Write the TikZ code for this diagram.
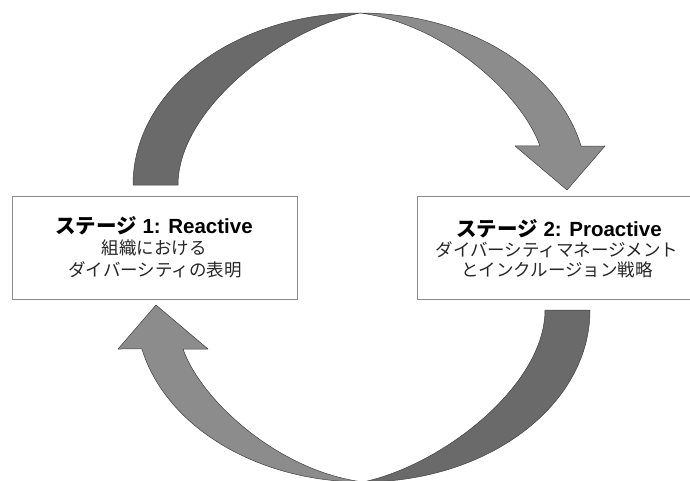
\documentclass[tikz,border=0pt]{standalone}
\usepackage{fontspec}
\newfontfamily\jpfont{Noto Sans CJK JP}
\newfontfamily\enfont{Liberation Sans}
\definecolor{arrowdark}{HTML}{6A6A6A}
\definecolor{arrowlight}{HTML}{8C8C8C}
\definecolor{boxline}{HTML}{8A8A8A}
\newcommand\drawcurvarrow{%
  \filldraw[arrowpart, fill=arrowdark]
    (133,295) arc[start angle=180, end angle=90, x radius=227, y radius=172]
    .. controls (280,450) and (178,370) .. (178,295) -- cycle;
  \filldraw[arrowpart, fill=arrowlight]
    (360,467) arc[start angle=90, end angle=13.1, x radius=227, y radius=172]
    -- (605,334) -- (567,290) -- (515,334) -- (540,334)
    .. controls (522,385) and (445,456) .. (360,467) -- cycle;
}
\begin{document}
\begin{tikzpicture}[x=1pt, y=1pt,
  arrowpart/.style={draw=black!75, line width=0.5pt, line join=round},
  stagebox/.style={draw=boxline, line width=0.9pt, minimum width=285pt, minimum height=103pt, inner sep=0pt},
  titletext/.style={font=\fontsize{20.5}{24}\selectfont\bfseries, anchor=base, inner sep=0pt},
  bodytext/.style={font=\jpfont\fontsize{17.5}{21}\selectfont, anchor=base, inner sep=0pt, text=black!85}]
\useasboundingbox (0,0) rectangle (690,480);
\clip (0,0) rectangle (690,480);
\fill[white] (0,0) rectangle (690,480);
% top arrow
\drawcurvarrow
% bottom arrow (same shape turned half round)
\begin{scope}[rotate around={180:(361.5,232.5)}]
\drawcurvarrow
\end{scope}
% boxes
\node[stagebox] (s1) at (154.5,232.5) {};
\node[stagebox] (s2) at (559.5,232.5) {};
% texts
\node[titletext] (s1t) at (154,247) {\jpfont ステージ\enfont\ 1: Reactive};
\node[bodytext] (s1a) at (154,225.3) {組織における};
\node[bodytext] (s1b) at (155,203.3) {ダイバーシティの表明};
\node[titletext] (s2t) at (559,244) {\jpfont ステージ\enfont\ 2: Proactive};
\node[bodytext] (s2a) at (557,223.3) {ダイバーシティマネージメント};
\node[bodytext] (s2b) at (557,203.3) {とインクルージョン戦略};
\end{tikzpicture}
\end{document}
